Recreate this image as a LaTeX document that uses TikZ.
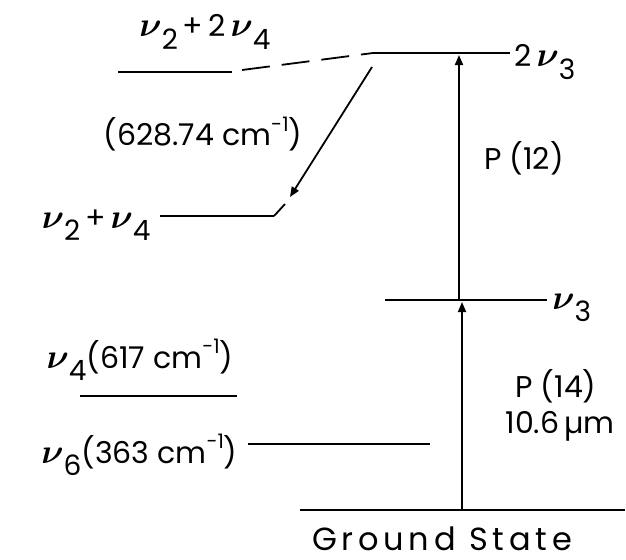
\documentclass[tikz,border=0pt]{standalone}
\usepackage{fontspec}
\usepackage{bm}
\setmainfont{Poppins}
\newfontfamily\gsfont[LetterSpace=15]{Poppins}
\usetikzlibrary{arrows.meta}
\newcommand{\nuu}[1]{{\fontsize{19}{19}\selectfont$\bm{\nu}$}\raisebox{-0.75ex}{\fontsize{14}{14}\selectfont #1}}
\newcommand{\invcm}{cm\raisebox{0.9ex}{\fontsize{10}{10}\selectfont -1}}
\begin{document}
\begin{tikzpicture}[x=0.5pt,y=-0.5pt,
  lvl/.style={line width=1.4pt},
  trans/.style={line width=0.9pt,-{Triangle[length=5pt,width=4pt]}},
  lbl/.style={inner sep=0pt,font=\fontsize{15}{17}\selectfont}]
\useasboundingbox (0,0) rectangle (626,559);
% 2nu3
\coordinate (A1) at (373,53); \coordinate (A2) at (510,53);
\draw[lvl] (A1) -- (A2);
\node[lbl,anchor=west] (tA) at (514,62) {2\,\nuu{3}};
% nu2+2nu4
\coordinate (B1) at (118,72); \coordinate (B2) at (232,72);
\draw[lvl] (B1) -- (B2);
\node[lbl] (tB) at (205,32) {\nuu{2}\,+\,2\,\nuu{4}};
\coordinate (B3) at (242,70);
\draw[line width=0.9pt,dash pattern=on 14pt off 6pt] (B3) -- (A1);
\node[lbl] (tC) at (203,134) {(628.74 \invcm)};
% nu2+nu4
\coordinate (C1) at (160,216); \coordinate (C2) at (274,216);
\coordinate (C3) at (372,67);
\draw[lvl] (C1) -- (C2);
\node[lbl,anchor=east] (tD) at (151,225) {\nuu{2}\,+\,\nuu{4}};
\draw[line width=0.9pt] (C2) -- (285,204);
\draw[trans] (C3) -- (290,197);
% nu3
\coordinate (D1) at (385,300); \coordinate (D2) at (547,300);
\draw[lvl] (D1) -- (D2);
\node[lbl,anchor=west] (tE) at (552,308) {\nuu{3}};
% nu4
\coordinate (E1) at (80,396); \coordinate (E2) at (237,396);
\draw[lvl] (E1) -- (E2);
\node[lbl] (tF) at (140,360) {\nuu{4}(617 \invcm)};
% nu6
\coordinate (F1) at (248,444); \coordinate (F2) at (430,444);
\draw[lvl] (F1) -- (F2);
\node[lbl,anchor=east] (tG) at (238,455) {\nuu{6}(363 \invcm)};
% ground
\coordinate (G1) at (300,510); \coordinate (G2) at (625,510);
\draw[lvl] (G1) -- (G2);
\node[lbl,font=\gsfont\fontsize{16}{18}\selectfont] (tH) at (442,539) {Ground State};
% pump arrows
\coordinate (P1) at (462,510); \coordinate (P2) at (462,302);
\coordinate (P3) at (459,300); \coordinate (P4) at (459,55);
\draw[trans] (P1) -- (P2);
\draw[trans] (P3) -- (P4);
\node[lbl] (tI) at (524,158) {P (12)};
\node[lbl] (tJ) at (556,386) {P (14)};
\node[lbl] (tK) at (560,426) {10.6\,µm};
\end{tikzpicture}
\end{document}
